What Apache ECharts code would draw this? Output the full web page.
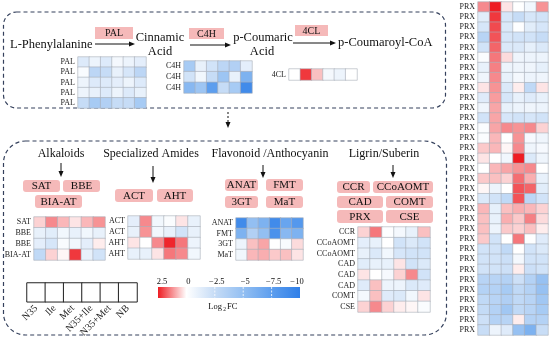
<!DOCTYPE html>
<html><head><meta charset="utf-8">
<script src="https://cdn.jsdelivr.net/npm/echarts@6/dist/echarts.min.js"></script>
<style>html,body{margin:0;padding:0;background:#fff}#c{width:550px;height:340px}</style>
</head><body><div id="c"></div>
<script>
// ---------- data ----------
const conditions = ['N35', 'Ile', 'Met', 'N35+Ile', 'N35+Met', 'NB'];
const scaleTicks = [2.5, 0, -2.5, -5, -7.5, -10];

const palRows = ['PAL', 'PAL', 'PAL', 'PAL', 'PAL'];
const palValues = [
  [-1.5, -0.8, -1.5, -0.5, -0.8, -1.2],
  [-0.3, -3.0, -2.5, -1.0, -1.8, -3.0],
  [-0.8, -1.5, -1.5, -1.2, -0.8, -1.5],
  [-0.8, -1.0, -1.5, -0.8, -1.5, -1.0],
  [-2.5, -4.0, -3.5, -2.5, -2.5, -4.0]
];
const c4hRows = ['C4H', 'C4H', 'C4H'];
const c4hValues = [
  [-4.0, -1.0, -2.0, -3.0, -3.5, -1.2],
  [-2.0, -0.6, -2.5, -4.5, -1.0, -6.0],
  [-5.5, -4.5, -7.5, -2.5, -4.0, -9.0]
];
const clRows = ['4CL'];
const clValues = [
  [0, 2.2, 0.7, -0.5, -0.8, 0]
];
const alkRows = ['SAT', 'BBE', 'BBE', 'BIA-AT'];
const alkValues = [
  [0.5, 1.3, 0.8, 0.3, 0.8, 1.2],
  [-1.0, -1.3, -0.6, -1.0, -0.6, -1.0],
  [-1.2, -1.8, -0.3, -0.6, -1.2, 0.2],
  [-2.8, 0.5, 0.1, 2.2, -1.0, -2.0]
];
const amiRows = ['ACT', 'ACT', 'AHT', 'AHT'];
const amiValues = [
  [-1.2, 1.3, -0.6, -0.2, 0.3, -1.0],
  [-1.0, 1.2, -0.6, -1.0, -2.0, -1.0],
  [0.3, 0, 1.3, 2.4, 1.5, -0.8],
  [-1.0, -1.0, 0.3, 1.5, 1.3, -0.6]
];
const flaRows = ['ANAT', 'FMT', '3GT', 'MaT'];
const flaValues = [
  [-9.0, -5.0, -6.0, -9.0, -7.0, -8.0],
  [-6.0, -3.5, -5.0, -8.5, -5.5, -6.0],
  [-0.8, 0.7, 1.0, 0, -0.3, 0.4],
  [-0.6, 0.8, 0.9, 0.6, 0.7, 0.3]
];
const ligRows = ['CCR', 'CCoAOMT', 'CCoAOMT', 'CAD', 'CAD', 'CAD', 'COMT', 'CSE'];
const ligValues = [
  [0.5, 1.5, -0.1, -0.5, -1.0, 0.7],
  [-1.2, -1.0, 0, -2.0, -1.6, -2.0],
  [-1.0, -1.6, -0.6, -1.8, -2.0, -2.0],
  [-1.3, -1.0, -1.0, 0.3, -2.0, -1.6],
  [0.3, 0, -0.4, 0.5, 1.3, -2.0],
  [-1.4, 0.7, -0.8, -0.8, -1.6, -1.4],
  [-0.5, 0.7, -1.4, -1.6, -0.6, 0.3],
  [0.5, 1.3, 0.5, 0.2, 0.1, -0.2]
];
const prxRows = Array(33).fill('PRX');
const prxValues = [
  [1.3, 2.5, 0.3, 0, -0.6, 1.2],
  [-1.3, 2.2, -1.8, -2.5, -1.8, -2.0],
  [-1.8, 2.0, -1.6, -0.1, -1.3, -1.8],
  [-3.2, 1.9, -1.8, -2.0, -2.0, -2.5],
  [-2.0, 1.7, -1.6, -1.6, -1.1, -1.6],
  [-0.2, 1.5, 0.4, -0.7, -0.8, -0.8],
  [-1.0, 1.4, -0.8, -0.7, -0.7, -1.1],
  [-0.7, 1.3, -1.0, -0.5, -0.8, -0.7],
  [0.3, 1.2, -1.6, 0.2, -2.8, 0.3],
  [-1.4, 1.1, -1.8, -1.0, -1.4, -1.0],
  [-0.7, 1.0, -1.0, -0.8, -0.7, -0.8],
  [-2.0, 1.0, -1.8, -2.0, -1.8, -2.0],
  [-0.2, 1.0, 1.3, 1.2, 1.3, 0.5],
  [-0.2, 0.8, 0, 1.2, -0.4, -0.7],
  [0.6, 0.8, 0.1, 1.3, -0.7, -0.4],
  [0.3, 0, -0.6, 2.5, -1.6, -0.7],
  [0, 0.8, 1.0, 1.2, 1.3, 0],
  [0.6, 0.7, 0.5, 1.6, 0.9, -1.0],
  [0.1, -0.8, 0, 1.9, 1.7, -1.3],
  [-1.6, -2.0, -2.8, 1.9, -3.0, -2.0],
  [0.8, -1.1, 0.7, 0.9, 0.8, 0.5],
  [0.7, -1.0, 0.9, 0.6, 1.4, 0.4],
  [0.7, -0.8, 0.6, 0.5, 0.7, 0.2],
  [0.6, -2.0, 0, 1.5, -0.1, -1.4],
  [-2.0, -2.0, -2.8, 0, -2.0, -1.6],
  [-2.0, -2.0, -2.3, -0.5, -2.0, -2.0],
  [-2.0, -2.0, -2.2, 0.2, -2.3, -2.0],
  [-3.2, -3.2, -3.4, -2.2, -3.4, -4.8],
  [-3.4, -3.4, -4.0, -2.8, -3.4, -4.8],
  [-2.8, -3.2, -3.6, -2.8, -3.2, -4.3],
  [-2.6, -3.4, -4.3, -2.8, -3.2, -4.0],
  [-2.2, -3.4, -3.2, 0.2, -3.4, -3.4],
  [-2.4, -0.8, -1.4, -4.8, -6.0, -2.4]
];

// ---------- styles ----------
const SERIF = '"Liberation Serif", "DejaVu Serif", serif';
const scaleColors = ['#2f7fe8', '#5d9eee', '#93bff2', '#c6dcf6', '#ffffff', '#ee1d23']; // -10 .. 2.5
const boxFill = '#f5b9b9';
const dashColor = '#34405c';

const grids = [], xAxes = [], yAxes = [], series = [];
function addHeat(rows, values, left, top, width, height) {
  const gi = grids.length;
  grids.push({ left, top, width, height });
  xAxes.push({ type: 'category', gridIndex: gi, data: conditions, show: false });
  yAxes.push({
    type: 'category', gridIndex: gi, inverse: true,
    data: rows.map((_, i) => String(i)),
    axisLine: { show: false }, axisTick: { show: false }, splitLine: { show: false },
    axisLabel: { interval: 0, formatter: v => rows[+v], fontSize: 8, fontFamily: SERIF, color: '#222', margin: 3 }
  });
  const data = [];
  values.forEach((row, r) => row.forEach((v, c) => data.push([c, r, v])));
  series.push({
    type: 'heatmap', xAxisIndex: gi, yAxisIndex: gi, data,
    itemStyle: { borderColor: '#a7afb8', borderWidth: 0.6 },
    emphasis: { disabled: true }, silent: true
  });
}
addHeat(palRows, palValues, 78, 57, 68, 51);
addHeat(c4hRows, c4hValues, 184, 61, 68, 32);
addHeat(clRows, clValues, 289, 69, 68, 11);
addHeat(alkRows, alkValues, 34, 217, 71, 43);
addHeat(amiRows, amiValues, 128, 216, 72, 43);
addHeat(flaRows, flaValues, 236, 218, 67, 42);
addHeat(ligRows, ligValues, 358, 227, 72, 85);
addHeat(prxRows, prxValues, 478, 2, 70, 333);
const heatCount = series.length;

// conditions key (empty boxes)
(function () {
  const gi = grids.length;
  grids.push({ left: 27, top: 283, width: 110, height: 20 });
  xAxes.push({
    type: 'category', gridIndex: gi, data: conditions,
    axisLine: { show: false }, axisTick: { show: false },
    axisLabel: { rotate: 45, fontSize: 10, fontFamily: SERIF, color: '#222', margin: 5, interval: 0 }
  });
  yAxes.push({ type: 'category', gridIndex: gi, data: ['k'], show: false });
  series.push({
    type: 'heatmap', xAxisIndex: gi, yAxisIndex: gi,
    data: conditions.map((_, i) => [i, 0, 0]),
    itemStyle: { color: '#ffffff', borderColor: '#222', borderWidth: 1 },
    emphasis: { disabled: true }, silent: true
  });
})();

// ---------- graphic helpers ----------
const G = [];
function txt(text, x, y, size, align) {
  G.push({ type: 'text', x, y, silent: true, style: {
    text, font: size + 'px ' + SERIF, fill: '#111',
    textAlign: align || 'center', textVerticalAlign: 'middle',
    align: align || 'center', verticalAlign: 'middle'
  } });
}
function box(label, x, y, w, h, r, size) {
  G.push({ type: 'rect', shape: { x, y, width: w, height: h, r }, style: { fill: boxFill }, silent: true });
  txt(label, x + w / 2, y + h / 2 + 0.5, size);
}
function arrowRight(x1, x2, y) {
  G.push({ type: 'line', shape: { x1, y1: y, x2: x2 - 4, y2: y }, style: { stroke: '#111', lineWidth: 1 }, silent: true });
  G.push({ type: 'polygon', shape: { points: [[x2, y], [x2 - 6, y - 2.5], [x2 - 6, y + 2.5]] }, style: { fill: '#111' }, silent: true });
}
function arrowDown(x, y1, y2, dash) {
  G.push({ type: 'line', shape: { x1: x, y1, x2: x, y2: y2 - 4 }, style: { stroke: '#111', lineWidth: 1, lineDash: dash ? [2, 2] : null }, silent: true });
  G.push({ type: 'polygon', shape: { points: [[x, y2], [x - 2.5, y2 - 6], [x + 2.5, y2 - 6]] }, style: { fill: '#111' }, silent: true });
}
function dashedBox(x, y, w, h, r) {
  G.push({ type: 'rect', z: -10, shape: { x, y, width: w, height: h, r }, style: { fill: 'none', stroke: dashColor, lineWidth: 1.2, lineDash: [4, 3] }, silent: true });
}

// frames
dashedBox(3.5, 12, 442, 96, 13);
dashedBox(3.5, 141, 443, 194, 22);
arrowDown(228, 112, 128, true);

// top pathway
txt('L-Phenylalanine', 10, 45, 12.5, 'left');
box('PAL', 95, 27, 38, 12, 0, 10);
arrowRight(95, 135, 44);
txt('Cinnamic', 160, 38, 12.5);
txt('Acid', 160, 52, 12.5);
box('C4H', 189, 28, 35, 11, 0, 10);
arrowRight(190, 231, 45);
txt('p-Coumaric', 263, 38, 12.5);
txt('Acid', 262, 52, 12.5);
box('4CL', 295, 25, 33, 11, 0, 10);
arrowRight(293, 336, 43);
txt('p-Coumaroyl-CoA', 338, 43, 12.5, 'left');

// sections
txt('Alkaloids', 61, 154, 12);
arrowDown(61, 163, 177);
box('SAT', 23, 180, 37, 12, 3, 11);
box('BBE', 63, 180, 37, 12, 3, 11);
box('BIA-AT', 35, 195, 47, 13, 3, 11);

txt('Specialized Amides', 151, 154, 12);
arrowDown(153, 166, 183);
box('ACT', 115, 189, 38, 13, 3, 11);
box('AHT', 157, 189, 36, 13, 3, 11);

txt('Flavonoid /Anthocyanin', 270, 154, 12);
arrowDown(263, 165, 178);
box('ANAT', 225, 179, 33, 12, 3, 11);
box('FMT', 266, 179, 37, 12, 3, 11);
box('3GT', 225, 196, 33, 12, 3, 11);
box('MaT', 266, 196, 37, 12, 3, 11);

txt('Ligrin/Suberin', 384, 154, 12);
arrowDown(393, 165, 178);
box('CCR', 337, 181, 33, 12, 3, 11);
box('CCoAOMT', 373, 181, 60, 12, 3, 11);
box('CAD', 337, 196, 46, 12, 3, 11);
box('COMT', 386, 196, 47, 12, 3, 11);
box('PRX', 337, 210, 46, 13, 3, 11);
box('CSE', 386, 210, 47, 13, 3, 11);

// colour bar legend
const barX = 158, barY = 287, barW = 142, barH = 11;
const vMin = -10, vMax = 2.5;
const posOf = v => barX + (vMax - v) / (vMax - vMin) * barW;
const stops = scaleColors.map((c, i) => ({ offset: 1 - i / (scaleColors.length - 1), color: c }));
G.push({ type: 'rect', shape: { x: barX, y: barY, width: barW, height: barH },
  style: { fill: { type: 'linear', x: 0, y: 0, x2: 1, y2: 0, colorStops: stops.sort((a, b) => a.offset - b.offset) } }, silent: true });
scaleTicks.forEach((v, i) => {
  const px = posOf(v);
  if (v < 0 && v > vMin) {
    G.push({ type: 'line', shape: { x1: px, y1: barY, x2: px, y2: barY + barH }, style: { stroke: '#ffffff', lineWidth: 0.8, lineDash: [2, 1.5] }, silent: true });
  }
  const lx = i === 0 ? px + 4 : (i === scaleTicks.length - 1 ? px - 3 : px + 2);
  txt(String(v).replace('-', '\u2212'), lx, 282, 8.5);
});
txt('Log', 222, 307, 8.5, 'right');
txt('2', 224.5, 309.5, 5.5);
txt('FC', 227, 307, 8.5, 'left');

const chart = echarts.init(document.getElementById('c'), null, { renderer: 'canvas' });
chart.setOption({
  animation: false,
  backgroundColor: '#ffffff',
  grid: grids, xAxis: xAxes, yAxis: yAxes,
  visualMap: {
    type: 'continuous', show: false, min: vMin, max: vMax,
    seriesIndex: Array.from({ length: heatCount }, (_, i) => i),
    inRange: { color: scaleColors }
  },
  series,
  graphic: { elements: G }
});
</script>
</body></html>
